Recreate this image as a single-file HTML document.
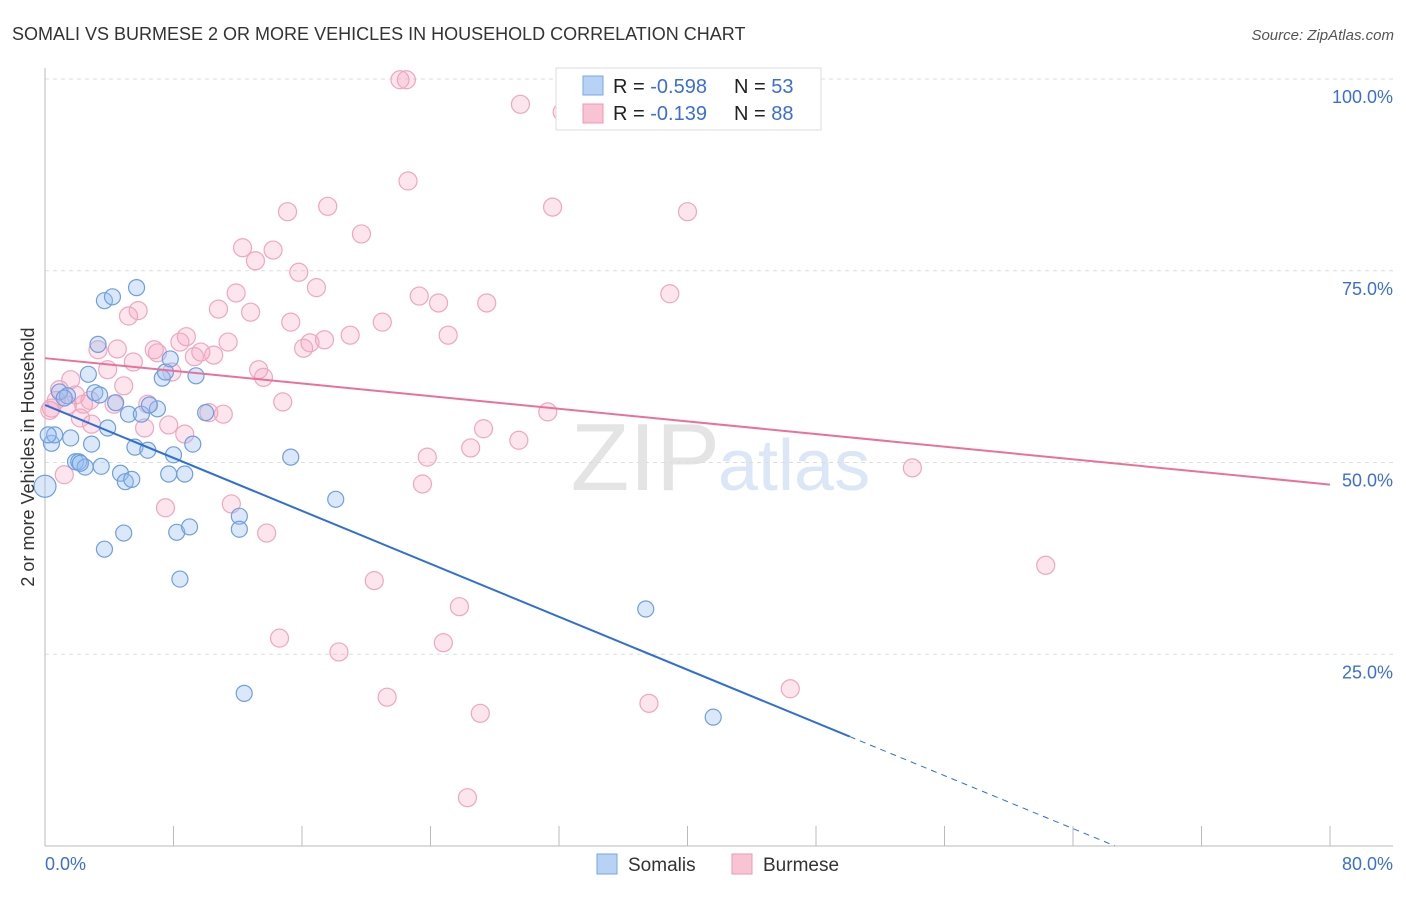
<!DOCTYPE html>
<html><head><meta charset="utf-8"><style>
body{margin:0;background:#fff;font-family:"Liberation Sans",sans-serif;}
svg text{font-family:"Liberation Sans",sans-serif;}
</style></head><body>
<svg id="c" width="1406" height="892" xmlns="http://www.w3.org/2000/svg">
<text x="12" y="40" font-size="18" fill="#333">SOMALI VS BURMESE 2 OR MORE VEHICLES IN HOUSEHOLD CORRELATION CHART</text>
<text x="1394" y="40" font-size="15" fill="#555" font-style="italic" text-anchor="end">Source: ZipAtlas.com</text>
<text x="720" y="490" font-size="96" fill="#e4e4e4" text-anchor="end" font-family="Liberation Serif">ZIP</text>
<text x="718" y="490" font-size="72" fill="#dbe6f6">atlas</text>
<g id="grid"></g><g id="pts"></g><g id="lines"></g>
<text transform="translate(34,457) rotate(-90)" font-size="18" fill="#333" text-anchor="middle">2 or more Vehicles in Household</text>
<text x="45" y="870" font-size="18" fill="#3b6fd4">0.0%</text>
<text x="1393" y="870" font-size="18" fill="#3b6fd4" text-anchor="end">80.0%</text>
<g>
<rect x="556" y="68" width="265" height="62" fill="#fff" stroke="#ddd"/>
<rect x="583" y="76" width="20" height="19" fill="#b8d2f5" stroke="#7ea6e0"/>
<rect x="583" y="104" width="20" height="19" fill="#f8c3d3" stroke="#ee9ab4"/>
<text x="613" y="93" font-size="20" fill="#222">R = <tspan fill="#3b6fd4">-0.598</tspan></text>
<text x="734" y="93" font-size="20" fill="#222">N = <tspan fill="#3b6fd4">53</tspan></text>
<text x="613" y="120" font-size="20" fill="#222">R = <tspan fill="#3b6fd4"> -0.139</tspan></text>
<text x="734" y="120" font-size="20" fill="#222">N = <tspan fill="#3b6fd4">88</tspan></text>
</g>
<g>
<rect x="597" y="854" width="20" height="20" fill="#b8d2f5" stroke="#7ea6e0"/>
<text x="628" y="871" font-size="19" fill="#333">Somalis</text>
<rect x="732" y="854" width="20" height="20" fill="#f8c3d3" stroke="#ee9ab4"/>
<text x="763" y="871" font-size="19" fill="#333">Burmese</text>
</g>
</svg>
<script>
const yTicks=[25,50,75,100];
const yTickLabels=["25.0%","50.0%","75.0%","100.0%"];
const xTicks=[0,8,16,24,32,40,48,56,64,72,80];
const somaliX=[0.0,0.4,0.6,0.9,1.4,1.6,1.9,2.1,2.5,2.7,2.9,3.1,3.3,3.5,3.7,3.7,3.9,4.2,4.4,4.7,4.9,5.0,5.2,5.4,5.6,5.7,6.0,6.4,7.0,7.3,7.5,7.7,7.8,8.0,8.2,8.4,8.7,9.0,9.2,9.4,10.0,12.1,12.1,12.4,15.3,18.1,37.4,41.6,0.2,2.2,1.2,3.4,6.5];
const somaliY=[46.9,52.5,53.6,59.2,58.7,53.2,50.1,50.1,49.4,61.5,52.4,59.1,65.4,49.5,38.7,71.1,54.5,71.6,57.8,48.6,40.8,47.5,56.3,47.8,52.0,72.8,56.3,51.6,57.0,61.0,61.8,48.5,63.5,51.0,40.9,34.8,48.5,41.6,52.4,61.3,56.5,43.0,41.3,19.9,50.7,45.2,30.9,16.8,53.6,49.9,58.4,58.8,57.5];
const burmeseX=[22.1,22.5,29.6,32.2,22.6,15.1,17.6,31.6,40.0,19.7,12.3,14.2,13.1,15.8,16.9,11.9,23.3,24.5,27.5,38.9,5.2,5.8,10.8,12.8,15.3,21.0,25.1,19.0,17.4,16.5,16.1,11.4,8.8,8.4,3.3,4.5,6.8,7.0,9.7,10.5,9.3,5.5,3.9,7.9,13.3,13.6,4.9,1.6,0.9,1.9,0.7,0.3,2.8,2.4,4.3,6.4,10.2,11.1,14.8,31.3,2.2,2.9,6.2,7.7,8.7,27.3,29.5,26.5,23.8,23.5,54.0,1.2,7.5,11.6,13.8,62.3,20.5,25.8,14.6,24.8,18.3,46.4,21.3,37.6,27.1,26.3,0.4,1.4];
const burmeseY=[99.9,99.9,96.7,95.7,86.7,82.7,83.4,83.3,82.7,79.8,78.0,77.7,76.3,74.8,72.8,72.1,71.7,70.8,70.8,72.0,69.1,69.8,70.0,69.6,68.3,68.3,66.6,66.6,66.0,65.6,64.9,65.7,66.4,65.7,64.7,64.8,64.7,64.3,64.4,64.0,63.8,63.1,62.1,61.8,62.1,61.1,60.0,60.8,59.5,58.8,58.1,56.8,58.1,57.6,57.6,57.6,56.5,56.3,57.9,56.6,55.8,55.0,54.5,54.9,53.7,54.4,52.9,51.9,50.7,47.2,49.3,48.4,44.1,44.6,40.8,36.6,34.6,31.2,27.1,26.5,25.3,20.5,19.4,18.6,17.3,6.3,57.1,57.5];
const somaliTrend=[57.5,-0.863];
const burmeseTrend=[63.6,-0.206];
const X=v=>45+v*(1330-45)/80;
const Y=v=>846-v*(846-79)/100;
const NS="http://www.w3.org/2000/svg";
function mk(t,a,p){const e=document.createElementNS(NS,t);for(const k in a)e.setAttribute(k,a[k]);p.appendChild(e);return e;}
const g=document.getElementById('grid');
yTicks.forEach((t,i)=>{
 const l=mk('line',{x1:45,x2:1393,y1:Y(t),y2:Y(t),stroke:'#ddd','stroke-dasharray':'4,4'},g);
 
 
 const tx=mk('text',{x:1393,y:Y(t)+24,'font-size':18,fill:'#3b6fd4','text-anchor':'end'},g);
 tx.textContent=yTickLabels[i];
 
 
});
const ax=mk('line',{x1:45,x2:45,y1:68,y2:846,stroke:'#bbb'},g);


const bx=mk('line',{x1:45,x2:1393,y1:846,y2:846,stroke:'#bbb'},g);


xTicks.forEach(t=>{
 const l=mk('line',{x1:X(t),x2:X(t),y1:826,y2:846,stroke:'#bbb'},g);
 
 
});
const p=document.getElementById('pts');
burmeseX.forEach((x,i)=>{
 const c=mk('circle',{cx:X(x),cy:Y(burmeseY[i]),r:9,fill:'rgba(244,160,190,0.28)',stroke:'#f0a6bf','stroke-width':1.2},p);
 
 
});
somaliX.forEach((x,i)=>{
 const c=mk('circle',{cx:X(x),cy:Y(somaliY[i]),r:i==0?11:8,fill:'rgba(150,190,240,0.35)',stroke:'#6f9fe0','stroke-width':1.2},p);
 
 
});
const L=document.getElementById('lines');
const sf=x=>somaliTrend[0]+somaliTrend[1]*x, bf=x=>burmeseTrend[0]+burmeseTrend[1]*x;
let e=mk('line',{x1:X(0),y1:Y(sf(0)),x2:X(50.1),y2:Y(sf(50.1)),stroke:'#2f6fd6','stroke-width':2},L);


e=mk('line',{x1:X(50.1),y1:Y(sf(50.1)),x2:X(66.6),y2:Y(sf(66.6)),stroke:'#2f6fd6','stroke-width':1,'stroke-dasharray':'6,5'},L);


e=mk('line',{x1:X(0),y1:Y(bf(0)),x2:X(80),y2:Y(bf(80)),stroke:'#e8729a','stroke-width':2},L);


</script>
</body></html>
